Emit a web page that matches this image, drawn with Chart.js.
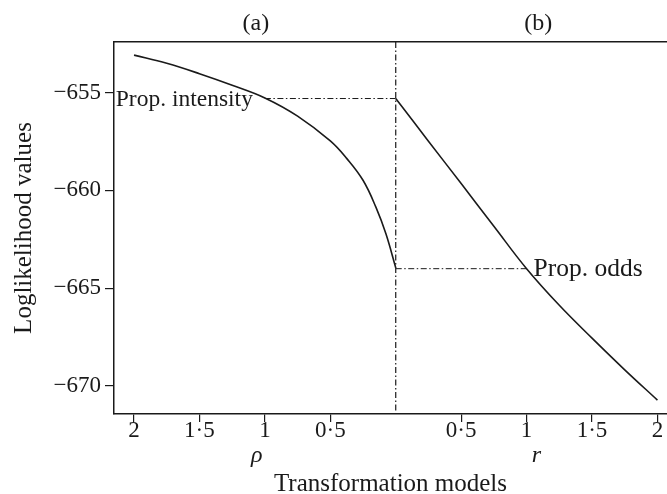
<!DOCTYPE html>
<html>
<head>
<meta charset="utf-8">
<script src="https://cdn.jsdelivr.net/npm/chart.js@4.4.1/dist/chart.umd.min.js"></script>
<style>
  html, body { margin: 0; padding: 0; background: #fff; }
  #wrap { width: 667px; height: 494px; }
</style>
</head>
<body>
<div id="wrap"><canvas id="myChart"></canvas></div>
<script>
// (a) rho transformation, plotted on the left half (x = -rho)
var rhoX = [-2, -1.75, -1.5, -1.25, -1, -0.75, -0.5, -0.375, -0.25, -0.15, -0.075, 0];
var rhoLogLik = [-653.08, -653.5, -654.03, -654.62, -655.27, -656.2, -657.47, -658.36, -659.48, -660.88, -662.22, -663.95];

// (b) r transformation, plotted on the right half
var rX = [0, 0.25, 0.5, 0.75, 1, 1.25, 1.5, 1.75, 2];
var rLogLik = [-655.3, -657.48, -659.65, -661.83, -664.0, -665.87, -667.55, -669.17, -670.72];

// reference models
var propIntensityX = [-1, 0];
var propIntensityValue = -655.3;
var propOddsX = [0, 1];
var propOddsValue = -664.0;

var xTicks = [-2, -1.5, -1, -0.5, 0.5, 1, 1.5, 2];
var yTicks = [-655, -660, -665, -670];
var xMin = -2.153, xMax = 2.073;
var yMin = -671.43, yMax = -652.41;

var serif = '"Liberation Serif", "Times New Roman", serif';
var ink = '#1a1a1a';

function toPoints(xs, ys) {
    return xs.map(function (x, i) { return { x: x, y: ys[i] }; });
}
function flat(xs, v) {
    return xs.map(function (x) { return { x: x, y: v }; });
}

var dashDot = [6, 2.5, 1.5, 2.5];

var extraText = {
    id: 'extraText',
    afterDraw: function (chart) {
        var ctx = chart.ctx;
        var xs = chart.scales.x, ys = chart.scales.y;
        var area = chart.chartArea;
        var mid = xs.getPixelForValue(0);
        var leftC = (area.left + mid) / 2;
        var rightC = (mid + area.right) / 2;
        ctx.save();
        ctx.fillStyle = ink;
        ctx.textBaseline = 'middle';
        ctx.textAlign = 'center';
        ctx.font = '24px ' + serif;
        ctx.fillText('(a)', leftC + 1, 24);
        ctx.fillText('(b)', rightC + 7, 24);
        ctx.font = 'italic 24px ' + serif;
        ctx.fillText('\u03c1', leftC + 2, 456);
        ctx.fillText('r', rightC + 5, 456);
        ctx.font = '23.5px ' + serif;
        ctx.textAlign = 'right';
        ctx.fillText('Prop. intensity', xs.getPixelForValue(propIntensityX[0]) - 12, ys.getPixelForValue(propIntensityValue) + 1);
        ctx.font = '25.5px ' + serif;
        ctx.textAlign = 'left';
        ctx.fillText('Prop. odds', xs.getPixelForValue(propOddsX[1]) + 7, ys.getPixelForValue(propOddsValue) + 1);
        ctx.restore();
    }
};

var ctx = document.getElementById('myChart').getContext('2d');
var myChart = new Chart(ctx, {
    type: 'scatter',
    data: {
        datasets: [
            {
                data: toPoints(rhoX, rhoLogLik),
                showLine: true, borderColor: ink, borderWidth: 1.6,
                pointRadius: 0, tension: 0.4
            },
            {
                data: toPoints(rX, rLogLik),
                showLine: true, borderColor: ink, borderWidth: 1.6,
                pointRadius: 0, tension: 0.4
            },
            {
                data: flat(propIntensityX, propIntensityValue),
                showLine: true, borderColor: ink, borderWidth: 1,
                borderDash: dashDot, pointRadius: 0
            },
            {
                data: flat(propOddsX, propOddsValue),
                showLine: true, borderColor: ink, borderWidth: 1,
                borderDash: dashDot, pointRadius: 0
            },
            {
                // divider between the two panels
                data: [{ x: 0, y: yMax }, { x: 0, y: yMin }],
                showLine: true, borderColor: ink, borderWidth: 1.2,
                borderDash: dashDot, pointRadius: 0
            }
        ]
    },
    options: {
        responsive: true,
        maintainAspectRatio: false,
        animation: false,
        events: [],
        layout: { padding: { top: 42, right: 0, left: 0, bottom: 0 } },
        plugins: { legend: { display: false }, tooltip: { enabled: false } },
        scales: {
            x: {
                type: 'linear', position: 'bottom', min: xMin, max: xMax,
                afterBuildTicks: function (s) { s.ticks = xTicks.map(function (v) { return { value: v }; }); },
                afterFit: function (s) { s.height = 80; },
                ticks: {
                    color: ink, padding: -5, maxRotation: 0, autoSkip: false,
                    font: { family: serif, size: 23 },
                    callback: function (v) { return String(Math.abs(v)).replace('.', '\u00b7'); }
                },
                grid: { display: true, drawOnChartArea: false, drawTicks: true, tickLength: 8, color: ink, lineWidth: 1.2 },
                border: { display: true, color: ink, width: 1.5 },
                title: {
                    display: true, text: 'Transformation models', color: ink,
                    font: { family: serif, size: 25, lineHeight: 1 },
                    padding: { top: 0, bottom: -3 }
                }
            },
            xTop: {
                type: 'linear', position: 'top', min: xMin, max: xMax,
                afterFit: function (s) { s.height = 0; },
                ticks: { display: false },
                grid: { display: false, drawTicks: false },
                border: { display: true, color: ink, width: 1.5 }
            },
            y: {
                type: 'linear', position: 'left', min: yMin, max: yMax,
                afterBuildTicks: function (s) { s.ticks = yTicks.map(function (v) { return { value: v }; }); },
                afterFit: function (s) { s.width = 114; },
                ticks: {
                    color: ink, padding: 4,
                    font: { family: serif, size: 23 },
                    callback: function (v) { return '\u2212' + Math.abs(v); }
                },
                grid: { display: true, drawOnChartArea: false, drawTicks: true, tickLength: 9, color: ink, lineWidth: 1.2 },
                border: { display: true, color: ink, width: 1.5 },
                title: {
                    display: true, text: 'Loglikelihood values', color: ink,
                    font: { family: serif, size: 25, lineHeight: 1 },
                    padding: { top: 12, bottom: 0 }
                }
            }
        }
    },
    plugins: [extraText]
});
</script>
</body>
</html>
